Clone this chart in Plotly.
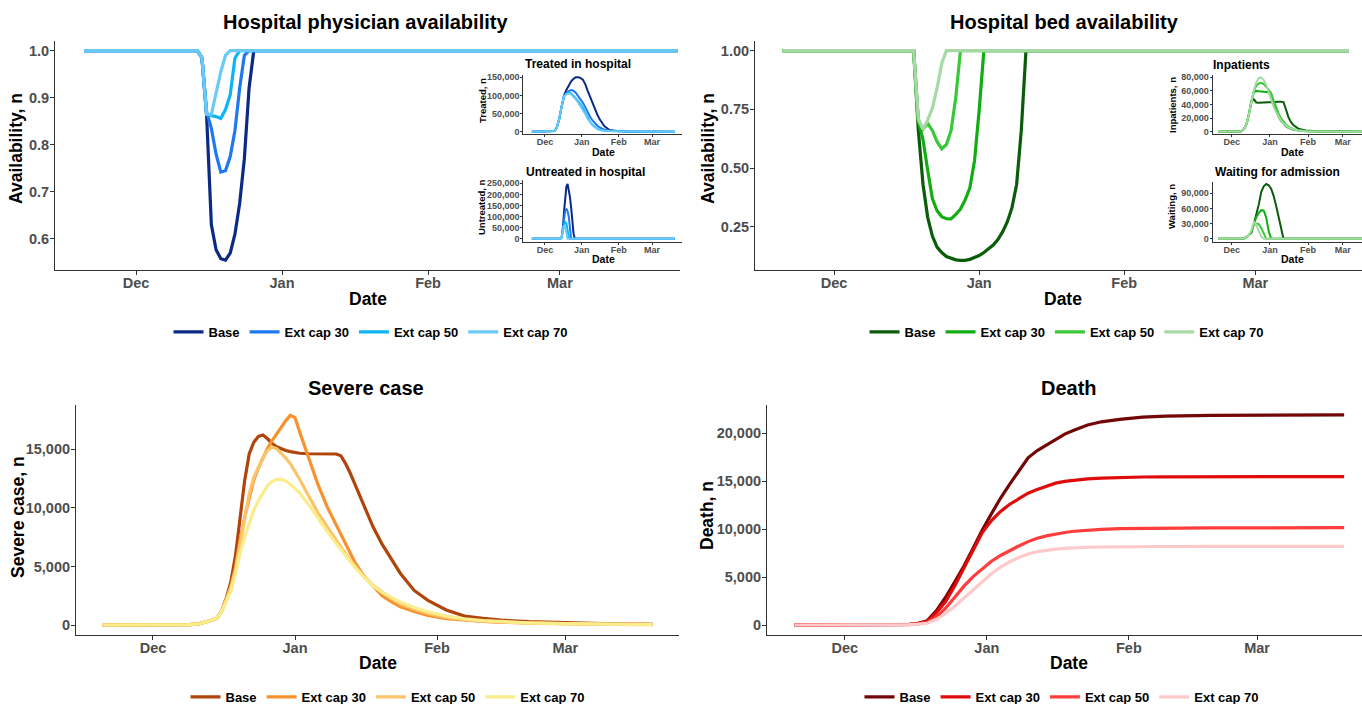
import pandas as pd
import plotly.graph_objects as go

W, H = 1362, 704
FONT = "Liberation Sans, Arial, sans-serif"
DAY0 = pd.Timestamp("2020-12-01")

SCENARIOS = ["Base", "Ext cap 30", "Ext cap 50", "Ext cap 70"]
MONTH_TICK_DAYS = [0, 31, 62, 90]
MONTH_TICK_TEXT = ["Dec", "Jan", "Feb", "Mar"]

BLUES = ["#0B2A85", "#1E78F0", "#0DB4F5", "#6BC9F7"]
GREENS = ["#0A5C0A", "#12AD12", "#38C838", "#A6D9A6"]
ORANGES = ["#B0450B", "#F8922E", "#FCC46A", "#F9ED8C"]
REDS = ["#730606", "#E00B0B", "#FF3D3D", "#FCCACA"]

# ---------------- Hospital physician availability ----------------
PHYS_DAYS = [-11, 13, 14, 15, 16, 17, 18, 19, 20, 21, 22, 23, 24, 25, 115]
PHYS_BASE = [1.0, 1.0, 0.985, 0.86, 0.63, 0.577, 0.558, 0.555, 0.57, 0.61, 0.675, 0.77, 0.92, 1.0, 1.0]
PHYS_EXT30 = [1.0, 1.0, 0.985, 0.87, 0.835, 0.78, 0.742, 0.745, 0.775, 0.83, 0.92, 0.99, 1.0, 1.0, 1.0]
PHYS_EXT50 = [1.0, 1.0, 0.985, 0.865, 0.862, 0.86, 0.856, 0.875, 0.906, 0.984, 1.0, 1.0, 1.0, 1.0, 1.0]
PHYS_EXT70 = [1.0, 1.0, 0.985, 0.865, 0.865, 0.91, 0.955, 0.99, 1.0, 1.0, 1.0, 1.0, 1.0, 1.0, 1.0]
PHYS_YTICKS = [0.6, 0.7, 0.8, 0.9, 1.0]
PHYS_YTEXT = ["0.6", "0.7", "0.8", "0.9", "1.0"]

# ---------------- Hospital bed availability ----------------
BED_DAYS = [-11, 17, 18, 19, 20, 21, 22, 23, 24, 25, 26, 27, 28, 29, 30,
            31, 32, 33, 34, 35, 36, 37, 38, 39, 40, 41, 110]
BED_BASE = [1.0, 1.0, 0.66, 0.43, 0.29, 0.21, 0.163, 0.14, 0.123, 0.115, 0.109, 0.107, 0.107, 0.111, 0.118,
            0.127, 0.14, 0.154, 0.172, 0.195, 0.228, 0.27, 0.33, 0.43, 0.66, 1.0, 1.0]
BED_EXT30 = [1.0, 1.0, 0.70, 0.62, 0.49, 0.37, 0.318, 0.293, 0.284, 0.283, 0.302, 0.325, 0.364, 0.415, 0.53,
             0.745, 1.0, 1.0, 1.0, 1.0, 1.0, 1.0, 1.0, 1.0, 1.0, 1.0, 1.0]
BED_EXT50 = [1.0, 1.0, 0.70, 0.665, 0.69, 0.66, 0.612, 0.582, 0.60, 0.66, 0.80, 1.0, 1.0, 1.0, 1.0,
             1.0, 1.0, 1.0, 1.0, 1.0, 1.0, 1.0, 1.0, 1.0, 1.0, 1.0, 1.0]
BED_EXT70 = [1.0, 1.0, 0.71, 0.665, 0.705, 0.755, 0.84, 0.945, 1.0, 1.0, 1.0, 1.0, 1.0, 1.0, 1.0,
             1.0, 1.0, 1.0, 1.0, 1.0, 1.0, 1.0, 1.0, 1.0, 1.0, 1.0, 1.0]
BED_YTICKS = [0.25, 0.5, 0.75, 1.0]
BED_YTEXT = ["0.25", "0.50", "0.75", "1.00"]

# ---------------- Severe case ----------------
SEV_DAYS = [-11, 0, 5, 8, 10,
            12, 13, 14, 15, 16, 17, 18, 19, 20, 21, 22, 23, 24, 25, 26, 27, 28, 29, 30, 31, 32,
            34, 36, 38, 40, 41, 42, 43, 44, 46, 48, 50, 52, 54,
            57, 60, 64, 68, 72, 76, 82, 90, 100, 109]
SEV_BASE = [0, 5, 15, 40, 100,
            300, 420, 600, 1200, 2300, 3700, 5900, 8960, 12300, 14600, 15600, 16100, 16220, 15900, 15500,
            15220, 15050, 14900, 14800, 14720, 14660,
            14620, 14600, 14600, 14600, 14450, 13800, 13000, 12100, 10200, 8400, 6900, 5600, 4400,
            2950, 2100, 1280, 760, 560, 420, 280, 170, 100, 60]
SEV_EXT30 = [0, 5, 15, 40, 100,
             300, 420, 600, 1200, 2200, 3300, 4900, 7260, 9200, 10900, 12380, 13400, 14300, 15100, 15750,
             16300, 16950, 17450, 17900, 17700, 16500,
             14150, 12000, 10100, 8500, 7800, 6900, 6120, 5400, 4200, 3300, 2500, 2000, 1550,
             1150, 820, 550, 400, 300, 230, 160, 110, 70, 45]
SEV_EXT50 = [0, 5, 15, 40, 100,
             300, 420, 600, 1200, 2200, 3200, 4700, 7000, 9200, 11200, 12600, 13500, 14300, 14900, 15200,
             15050, 14650, 14250, 13750, 13100, 12450,
             11000, 9600, 8400, 7200, 6650, 6100, 5550, 5050, 4150, 3400, 2800, 2250, 1820,
             1350, 980, 650, 450, 320, 240, 160, 100, 60, 40]
SEV_EXT70 = [0, 5, 15, 40, 100,
             300, 420, 600, 1150, 2000, 2900, 4300, 6120, 7500, 8750, 9800, 10600, 11300, 11900, 12250,
             12430, 12450, 12280, 12000, 11650, 11280,
             10250, 9100, 8000, 6950, 6450, 5950, 5400, 4950, 4100, 3350, 2780, 2350, 1950,
             1500, 1130, 770, 530, 380, 280, 180, 110, 60, 40]
SEV_YTICKS = [0, 5000, 10000, 15000]

# ---------------- Death ----------------
DEATH_DAYS = [-11, 0, 10, 14, 16, 18, 20, 22, 24, 26, 28, 30, 32, 34, 36, 38, 40, 42, 44, 46, 48, 50,
              53, 56, 60, 65, 70, 80, 90, 100, 109]
DEATH_BASE = [0, 0, 10, 60, 180, 450, 1500, 2900, 4500, 6150, 8000, 9900, 11600, 13250, 14700, 16100,
              17450, 18200, 18800, 19400, 19920, 20320, 20860, 21200, 21460, 21680, 21800, 21880, 21900,
              21910, 21920]
DEATH_EXT30 = [0, 0, 8, 50, 150, 370, 1300, 2450, 4100, 5950, 7850, 9650, 10900, 11850, 12600, 13200,
               13750, 14150, 14500, 14800, 14980, 15100, 15250, 15330, 15400, 15440, 15460, 15480, 15490,
               15490, 15490]
DEATH_EXT50 = [0, 0, 5, 40, 120, 270, 850, 1750, 2900, 4050, 5050, 5900, 6650, 7250, 7780, 8250,
               8700, 9050, 9300, 9500, 9650, 9780, 9900, 9980, 10050, 10090, 10110, 10130, 10140,
               10150, 10150]
DEATH_EXT70 = [0, 0, 3, 30, 90, 180, 600, 1200, 1950, 2800, 3700, 4550, 5350, 6050, 6600, 7050,
               7400, 7650, 7800, 7920, 8000, 8060, 8110, 8140, 8170, 8180, 8190, 8200, 8200,
               8200, 8200]
DEATH_YTICKS = [0, 5000, 10000, 15000, 20000]

# ---------------- Inset: Treated in hospital ----------------
TREAT_DAYS = [-11, 0, 6, 8, 10, 12, 14, 16, 18, 20, 22, 24, 26, 28, 30, 32, 34, 36, 38, 40, 42, 44,
              46, 48, 50, 54, 60, 70, 90, 109]
TREAT_BASE = [0, 0, 500, 2000, 12000, 35000, 69000, 100000, 115000, 128000, 139000, 146000, 150000,
              150000, 148000, 143000, 130000, 112000, 95000, 78000, 62000, 47000, 34000, 23000, 15000,
              5000, 2000, 800, 250, 100]
TREAT_EXT30 = [0, 0, 500, 2000, 12000, 35000, 69000, 98000, 106000, 112000, 115000, 113000, 107000,
               98000, 88000, 79000, 67000, 53000, 40500, 31000, 23000, 16500, 11500, 8000, 5500,
               3000, 1500, 600, 200, 80]
TREAT_EXT50 = [0, 0, 500, 2000, 12000, 35000, 69000, 98000, 105000, 108000, 106000, 100000, 92000,
               84000, 75000, 66000, 52000, 38000, 27000, 19000, 12500, 8000, 5500, 3800, 2800,
               1800, 1000, 400, 150, 60]
TREAT_EXT70 = [0, 0, 500, 2000, 12000, 35000, 69000, 97000, 103000, 105000, 103000, 97000, 89000,
               80000, 70000, 61000, 48000, 35000, 25000, 17500, 11500, 7500, 5000, 3500, 2600,
               1700, 900, 350, 130, 50]
TREAT_YTICKS = [0, 50000, 100000, 150000]

# ---------------- Inset: Untreated in hospital ----------------
UNTREAT_DAYS = [-11, 13, 14, 15, 16, 17, 18, 19, 20, 21, 22, 23, 24, 25, 109]
UNTREAT_BASE = [0, 0, 5000, 40000, 120000, 200000, 235000, 247000, 225000, 189000, 140000, 80000, 25000, 0, 0]
UNTREAT_EXT30 = [0, 0, 5000, 40000, 95000, 125000, 135000, 125000, 99000, 45000, 0, 0, 0, 0, 0]
UNTREAT_EXT50 = [0, 0, 5000, 35000, 62000, 75000, 70000, 40000, 8000, 0, 0, 0, 0, 0, 0]
UNTREAT_EXT70 = [0, 0, 5000, 35000, 60000, 55000, 20000, 0, 0, 0, 0, 0, 0, 0, 0]
UNTREAT_YTICKS = [0, 50000, 100000, 150000, 200000, 250000]

# ---------------- Inset: Inpatients ----------------
INPAT_DAYS = [-11, 0, 8, 10, 12, 14, 16, 18, 20, 22, 24, 26, 28, 30, 32, 34, 36, 38, 40, 42, 44,
              46, 48, 50, 54, 60, 70, 90, 109]
INPAT_BASE = [0, 0, 500, 4000, 11000, 26000, 45000, 47500, 43000, 42500, 43000, 43500, 43500, 43500,
              43500, 44000, 44000, 44000, 44000, 43500, 33000, 21500, 14500, 9800, 4500, 1800, 600, 150, 60]
INPAT_EXT30 = [0, 0, 500, 4000, 11000, 26000, 45000, 58000, 60000, 59500, 59000, 58500, 58000, 58000,
               50000, 40000, 30000, 22000, 16000, 11500, 8200, 5800, 4200, 3000, 1600, 700, 280, 90, 40]
INPAT_EXT50 = [0, 0, 500, 4000, 11000, 26000, 45000, 60000, 68000, 71000, 72000, 70000, 66000, 61000,
               57000, 46000, 36000, 27000, 20000, 14500, 10500, 7500, 5300, 3800, 2000, 900, 350, 110, 50]
INPAT_EXT70 = [0, 0, 500, 4000, 11000, 26000, 45000, 61000, 73000, 79000, 79500, 76000, 69000, 58000,
               47000, 37000, 29000, 22000, 16500, 12000, 9000, 6500, 4800, 3500, 1800, 800, 300, 100, 50]
INPAT_YTICKS = [0, 20000, 40000, 60000, 80000]

# ---------------- Inset: Waiting for admission ----------------
WAIT_DAYS = [-11, 8, 10, 12, 14, 16, 18, 20, 22, 24, 26, 28, 30, 32, 34, 36, 38, 40, 42, 44, 109]
WAIT_BASE = [0, 0, 500, 3000, 7000, 12000, 29000, 46000, 68000, 93000, 104000, 108400, 106000, 99000,
             85000, 66000, 44000, 20000, 0, 0, 0]
WAIT_EXT30 = [0, 0, 500, 3000, 7000, 14000, 29000, 43000, 51000, 56500, 55500, 42000, 15000, 0,
              0, 0, 0, 0, 0, 0, 0]
WAIT_EXT50 = [0, 0, 500, 3000, 7000, 15000, 28000, 30000, 29000, 21000, 9000, 0, 0, 0,
              0, 0, 0, 0, 0, 0, 0]
WAIT_EXT70 = [0, 0, 500, 3000, 7000, 17000, 34000, 27000, 15000, 4000, 0, 0, 0, 0,
              0, 0, 0, 0, 0, 0, 0]
WAIT_YTICKS = [0, 30000, 60000, 90000]


def to_dates(days):
    return [(DAY0 + pd.Timedelta(days=float(d))).strftime("%Y-%m-%d %H:%M:%S") for d in days]


def comma(vals):
    return [f"{v:,}" for v in vals]


def xdom(a, b):
    return [a / W, b / W]


def ydom(top, bottom):
    return [1 - bottom / H, 1 - top / H]


PANELS = [
    dict(n=1, days=PHYS_DAYS, ser=[PHYS_BASE, PHYS_EXT30, PHYS_EXT50, PHYS_EXT70], col=BLUES,
         leg="legend", lw=3.2, xd=(55, 680), yd=(41, 270), xr=(-17.2, 115.5), yr=(0.534, 1.0206),
         yt=PHYS_YTICKS, ytt=PHYS_YTEXT, inset=False),
    dict(n=2, days=BED_DAYS, ser=[BED_BASE, BED_EXT30, BED_EXT50, BED_EXT70], col=GREENS,
         leg="legend2", lw=3.2, xd=(755, 1362), yd=(41, 270), xr=(-16.9, 112.8), yr=(0.0656, 1.041),
         yt=BED_YTICKS, ytt=BED_YTEXT, inset=False),
    dict(n=3, days=SEV_DAYS, ser=[SEV_BASE, SEV_EXT30, SEV_EXT50, SEV_EXT70], col=ORANGES,
         leg="legend3", lw=3.2, xd=(76, 679), yd=(405, 635), xr=(-16.8, 114.8), yr=(-854, 18782),
         yt=SEV_YTICKS, ytt=comma(SEV_YTICKS), inset=False),
    dict(n=4, days=DEATH_DAYS, ser=[DEATH_BASE, DEATH_EXT30, DEATH_EXT50, DEATH_EXT70], col=REDS,
         leg="legend4", lw=3.2, xd=(767, 1362), yd=(405, 635), xr=(-17.0, 112.9), yr=(-1043, 22953),
         yt=DEATH_YTICKS, ytt=comma(DEATH_YTICKS), inset=False),
    dict(n=5, days=TREAT_DAYS, ser=[TREAT_BASE, TREAT_EXT30, TREAT_EXT50, TREAT_EXT70], col=BLUES,
         leg=None, lw=2.0, xd=(523.3, 681.7), yd=(74.6, 134.4), xr=(-18.2, 114.9), yr=(-7500, 157500),
         yt=TREAT_YTICKS, ytt=comma(TREAT_YTICKS), inset=True),
    dict(n=6, days=UNTREAT_DAYS, ser=[UNTREAT_BASE, UNTREAT_EXT30, UNTREAT_EXT50, UNTREAT_EXT70], col=BLUES,
         leg=None, lw=2.0, xd=(523.3, 681.7), yd=(180, 241.7), xr=(-18.2, 114.9), yr=(-13540, 264900),
         yt=UNTREAT_YTICKS, ytt=comma(UNTREAT_YTICKS), inset=True),
    dict(n=7, days=INPAT_DAYS, ser=[INPAT_BASE, INPAT_EXT30, INPAT_EXT50, INPAT_EXT70], col=GREENS,
         leg=None, lw=2.0, xd=(1212.7, 1362), yd=(75, 134.3), xr=(-15.4, 105.7), yr=(-3820, 83400),
         yt=INPAT_YTICKS, ytt=comma(INPAT_YTICKS), inset=True),
    dict(n=8, days=WAIT_DAYS, ser=[WAIT_BASE, WAIT_EXT30, WAIT_EXT50, WAIT_EXT70], col=GREENS,
         leg=None, lw=2.0, xd=(1212.7, 1362), yd=(181.7, 241.7), xr=(-15.4, 105.7), yr=(-5950, 113000),
         yt=WAIT_YTICKS, ytt=comma(WAIT_YTICKS), inset=True),
]

fig = go.Figure()
layout = {}
TICK_GREY = "#4D4D4D"
AX_LINE = "#333333"

for p in PANELS:
    n = p["n"]
    sfx = "" if n == 1 else str(n)
    dates = to_dates(p["days"])
    for name, vals, c in zip(SCENARIOS, p["ser"], p["col"]):
        tr = dict(x=dates, y=vals, mode="lines", name=name,
                  line=dict(color=c, width=p["lw"]),
                  xaxis="x" + sfx, yaxis="y" + sfx, hoverinfo="skip")
        if p["leg"] is None:
            tr["showlegend"] = False
        else:
            tr["legend"] = p["leg"]
        fig.add_trace(go.Scatter(**tr))
    inset = p["inset"]
    tsize = 9 if inset else 14.5
    layout["xaxis" + sfx] = dict(
        domain=xdom(*p["xd"]), anchor="y" + sfx, type="date",
        range=to_dates(p["xr"]),
        tickmode="array", tickvals=to_dates(MONTH_TICK_DAYS), ticktext=MONTH_TICK_TEXT,
        tickfont=dict(family=FONT, size=tsize, color=TICK_GREY, weight="bold"),
        showline=True, linecolor=AX_LINE, linewidth=1.1,
        ticks="outside", ticklen=2 if inset else 4, tickcolor=AX_LINE, tickwidth=1,
        ticklabelstandoff=-3 if inset else -4,
        showgrid=False, zeroline=False, fixedrange=True,
    )
    layout["yaxis" + sfx] = dict(
        domain=ydom(*p["yd"]), anchor="x" + sfx,
        range=list(p["yr"]),
        tickmode="array", tickvals=p["yt"], ticktext=p["ytt"],
        tickfont=dict(family=FONT, size=tsize, color=TICK_GREY, weight="bold"),
        showline=True, linecolor=AX_LINE, linewidth=1.1,
        ticks="outside", ticklen=2 if inset else 4, tickcolor=AX_LINE, tickwidth=1,
        ticklabelstandoff=-1 if inset else -2,
        showgrid=False, zeroline=False, fixedrange=True,
    )


def ann(text, xpx, ypx, size, angle=0):
    return dict(text=text, x=xpx / W, y=1 - ypx / H, xref="paper", yref="paper",
                showarrow=False, textangle=angle, xanchor="center", yanchor="middle",
                font=dict(family=FONT, size=size, color="black", weight="bold"))


annotations = [
    ann("Hospital physician availability", 366, 22, 20),
    ann("Hospital bed availability", 1064, 22, 20),
    ann("Severe case", 366, 388, 20),
    ann("Death", 1069, 388, 20),
    ann("Date", 368, 299, 17.5),
    ann("Date", 1063, 299, 17.5),
    ann("Date", 378, 663, 17.5),
    ann("Date", 1069, 663, 17.5),
    ann("Availability, n", 16, 149, 17.5, -90),
    ann("Availability, n", 708, 149, 17.5, -90),
    ann("Severe case, n", 18, 517, 17.5, -90),
    ann("Death, n", 707, 516, 17.5, -90),
    # insets
    ann("Treated in hospital", 578, 64, 12),
    ann("Untreated in hospital", 585, 172.5, 12),
    ann("Inpatients", 1241, 65, 12),
    ann("Waiting for admission", 1277, 171.5, 12),
    ann("Date", 603, 152.5, 10.5),
    ann("Date", 603, 258.5, 10.5),
    ann("Date", 1292, 152.5, 10.5),
    ann("Date", 1292, 259, 10.5),
    ann("Treated, n", 482, 100, 9.5, -90),
    ann("Untreated, n", 482, 207, 9.5, -90),
    ann("Inpatients, n", 1172, 105, 9.5, -90),
    ann("Waiting, n", 1172, 207, 9.5, -90),
]


def legend_box(xc_px, y_px):
    return dict(orientation="h", x=xc_px / W, y=1 - y_px / H, xanchor="center", yanchor="middle",
                font=dict(family=FONT, size=13, color="black", weight="bold"),
                bgcolor="rgba(0,0,0,0)", itemwidth=30, traceorder="normal", itemclick=False,
                itemdoubleclick=False)


layout.update(
    width=W, height=H, autosize=False,
    margin=dict(l=0, r=0, t=0, b=0, autoexpand=False),
    paper_bgcolor="white", plot_bgcolor="rgba(0,0,0,0)",
    annotations=annotations,
    legend=legend_box(371, 332),
    legend2=legend_box(1067, 332),
    legend3=legend_box(388, 697),
    legend4=legend_box(1062, 697),
    hovermode=False,
)
fig.update_layout(**layout)

fig.write_html("out.html", config={"displayModeBar": False})
